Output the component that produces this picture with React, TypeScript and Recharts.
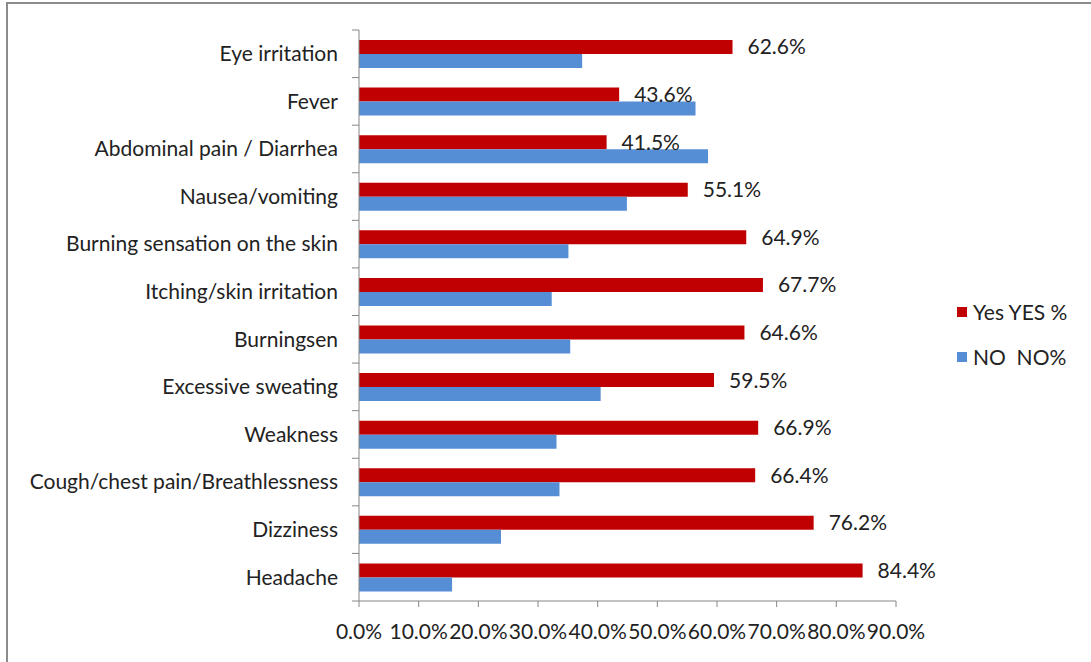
import { Bar, BarChart, LabelList, XAxis, YAxis } from "recharts";

const categories = [
  "Eye irritation",
  "Fever",
  "Abdominal pain / Diarrhea",
  "Nausea/vomiting",
  "Burning sensation on the skin",
  "Itching/skin irritation",
  "Burningsen",
  "Excessive sweating",
  "Weakness",
  "Cough/chest pain/Breathlessness",
  "Dizziness",
  "Headache",
];
const yesValues = [62.6, 43.6, 41.5, 55.1, 64.9, 67.7, 64.6, 59.5, 66.9, 66.4, 76.2, 84.4];
const noValues = [37.4, 56.4, 58.5, 44.9, 35.1, 32.3, 35.4, 40.5, 33.1, 33.6, 23.8, 15.6];
const xTicks = [0, 10, 20, 30, 40, 50, 60, 70, 80, 90];

const data = categories.map((name, i) => ({
  name,
  yes: yesValues[i],
  no: noValues[i],
}));

const W = 1091;
const H = 662;
const PLOT_LEFT = 359;
const PLOT_RIGHT = 896;
const PLOT_TOP = 30;
const PLOT_BOTTOM = 601;
const X_AXIS_H = 50;
const BAND = (PLOT_BOTTOM - PLOT_TOP) / categories.length;
const FONT = "Lato, 'Open Sans', sans-serif";
const FS = 21;
const AXIS = "#868686";
const TEXT = "#222";

const pct = (v: number) => `${v.toFixed(1)}%`;

function CategoryTick(props: any) {
  const { y, payload, index } = props;
  const last = index === categories.length - 1;
  return (
    <g>
      <text
        x={PLOT_LEFT - 21}
        y={y}
        dy="0.35em"
        textAnchor="end"
        fill={TEXT}
        fontSize={FS}
        fontFamily={FONT}
      >
        {payload.value}
      </text>
      <line x1={PLOT_LEFT - 7} x2={PLOT_LEFT} y1={y - BAND / 2} y2={y - BAND / 2} stroke={AXIS} />
      {last && (
        <line x1={PLOT_LEFT - 7} x2={PLOT_LEFT} y1={y + BAND / 2} y2={y + BAND / 2} stroke={AXIS} />
      )}
    </g>
  );
}

function LegendBox() {
  const item = (color: string, label: string) => (
    <div style={{ display: "flex", alignItems: "center", height: 45 }}>
      <span style={{ width: 10, height: 10, background: color, marginRight: 6 }} />
      <span style={{ whiteSpace: "pre", fontSize: FS, fontFamily: FONT, color: TEXT }}>{label}</span>
    </div>
  );
  return (
    <div style={{ position: "absolute", left: 957, top: 289 }}>
      {item("#C00000", "Yes YES %")}
      {item("#558ED5", "NO  NO%")}
    </div>
  );
}

export default function App() {
  return (
    <div style={{ position: "absolute", left: 0, top: 0, width: W, height: H, background: "#fff" }}>
      <div
        style={{
          position: "absolute",
          left: 6,
          top: 2,
          width: W - 6,
          height: H - 2,
          borderTop: "2px solid #8c8c8c",
          borderLeft: "2px solid #8c8c8c",
          boxSizing: "border-box",
        }}
      />
      <BarChart
        width={W}
        height={H}
        data={data}
        layout="vertical"
        barSize={14}
        barGap={0}
        margin={{ top: PLOT_TOP, right: W - PLOT_RIGHT, left: 0, bottom: H - PLOT_BOTTOM - X_AXIS_H }}
        style={{ position: "absolute", left: 0, top: 0 }}
      >
        <XAxis
          type="number"
          domain={[0, 90]}
          ticks={xTicks}
          tickFormatter={pct}
          height={X_AXIS_H}
          stroke={AXIS}
          tickSize={6}
          tickMargin={17}
          interval={0}
          tick={{ fill: TEXT, fontSize: FS, fontFamily: FONT }}
        />
        <YAxis
          type="category"
          dataKey="name"
          width={PLOT_LEFT}
          stroke={AXIS}
          tickLine={false}
          interval={0}
          tick={<CategoryTick />}
        />
        <Bar dataKey="yes" fill="#C00000" isAnimationActive={false}>
          <LabelList
            dataKey="yes"
            position="right"
            offset={15}
            formatter={(v: any) => pct(Number(v))}
            fill={TEXT}
            fontSize={FS}
            fontFamily={FONT}
          />
        </Bar>
        <Bar dataKey="no" fill="#558ED5" isAnimationActive={false} />
      </BarChart>
      <LegendBox />
    </div>
  );
}
